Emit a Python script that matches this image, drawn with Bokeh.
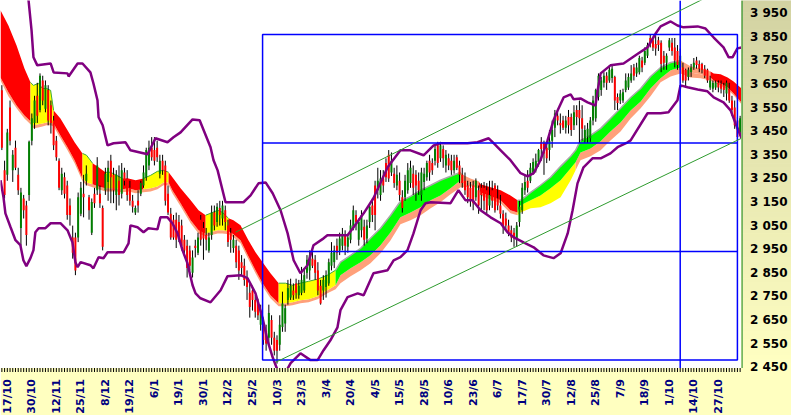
import math
from bokeh.plotting import figure
from bokeh.models import Range1d
from bokeh.core.properties import value
from bokeh.embed import file_html
from bokeh.resources import INLINE

# ---------------- data ----------------
opens = [
    3623, 3285, 3265, 3550, 3285, 3380, 3265, 3040, 3165, 3135,
    3180, 3410, 3485, 3600, 3540, 3665, 3545, 3625, 3560, 3495,
    3410, 3325, 3200, 3255, 3220, 3135, 3000, 3000, 3000, 3100,
    3185, 3240, 3170, 3020, 3185, 3200, 3185, 3125, 3200, 3235,
    3325, 3265, 3180, 3240, 3185, 3275, 3250, 3210, 3155, 3105,
    3155, 3185, 3220, 3255, 3305, 3380, 3370, 3380, 3270, 3325,
    3305, 3185, 3100, 3075, 3075, 3065, 3050, 2990, 2965, 2945,
    2850, 2965, 2935, 3075, 3040, 3010, 2945, 3010, 3105, 3065,
    3125, 3080, 3115, 3050, 3020, 2955, 2965, 2945, 2895, 2880,
    2830, 2765, 2775, 2735, 2725, 2630, 2635, 2605, 2575, 2650,
    2575, 2565, 2545, 2620, 2635, 2735, 2745, 2775, 2805, 2755,
    2765, 2775, 2850, 2860, 2910, 2905, 2860, 2795, 2775, 2790,
    2805, 2880, 2895, 2965, 2945, 2965, 3010, 2960, 2990, 3045,
    3095, 2990, 3030, 3045, 2995, 3065, 3135, 3220, 3200, 3180,
    3250, 3315, 3350, 3275, 3270, 3220, 3240, 3170, 3170, 3200,
    3230, 3270, 3265, 3240, 3180, 3235, 3255, 3325, 3315, 3325,
    3390, 3335, 3375, 3305, 3335, 3325, 3285, 3340, 3305, 3265,
    3240, 3220, 3210, 3220, 3170, 3200, 3210, 3210, 3200, 3135,
    3200, 3220, 3165, 3135, 3100, 3080, 3050, 3030, 3020, 2990,
    3065, 3115, 3200, 3240, 3240, 3275, 3285, 3320, 3405, 3400,
    3380, 3370, 3410, 3465, 3515, 3485, 3495, 3465, 3510, 3510,
    3475, 3540, 3540, 3505, 3410, 3425, 3420, 3495, 3505, 3595,
    3625, 3655, 3685, 3665, 3675, 3680, 3595, 3580, 3580, 3625,
    3635, 3665, 3720, 3695, 3700, 3750, 3740, 3770, 3845, 3835,
    3820, 3835, 3825, 3770, 3740, 3805, 3825, 3805, 3790, 3720,
    3720, 3710, 3680, 3700, 3720, 3750, 3735, 3735, 3715, 3710,
    3635, 3630, 3635, 3655, 3650, 3645, 3610, 3630, 3580, 3550,
    3495, 3445,
]
closes = [
    3380, 3180, 3445, 3410, 3350, 3295, 3200, 3190, 3115, 3010,
    3405, 3505, 3580, 3515, 3685, 3580, 3645, 3495, 3485, 3390,
    3340, 3210, 3270, 3185, 3095, 3095, 2935, 2860, 3170, 3210,
    3170, 3270, 3115, 3150, 3145, 3305, 3145, 2960, 3270, 3295,
    3255, 3200, 3265, 3180, 3285, 3240, 3180, 3155, 3130, 3125,
    3135, 3230, 3275, 3370, 3380, 3340, 3325, 3340, 3325, 3285,
    3155, 3105, 3000, 3000, 2990, 2995, 2965, 2945, 2870, 2880,
    2915, 2955, 3000, 2990, 2995, 2990, 3000, 3105, 3050, 3130,
    3095, 3135, 3065, 2980, 2990, 2990, 2895, 2860, 2870, 2820,
    2790, 2705, 2735, 2685, 2670, 2690, 2565, 2550, 2680, 2575,
    2520, 2520, 2630, 2720, 2700, 2785, 2795, 2755, 2765, 2795,
    2820, 2840, 2905, 2925, 2880, 2850, 2775, 2720, 2820, 2840,
    2895, 2935, 2945, 2935, 2995, 3015, 2965, 3000, 3050, 3115,
    3065, 3065, 3095, 2990, 3050, 3130, 3095, 3095, 3240, 3250,
    3220, 3255, 3250, 3325, 3230, 3265, 3180, 3125, 3240, 3285,
    3295, 3210, 3220, 3200, 3275, 3270, 3315, 3275, 3285, 3375,
    3315, 3390, 3335, 3350, 3305, 3285, 3325, 3295, 3265, 3230,
    3200, 3170, 3155, 3145, 3240, 3135, 3180, 3155, 3115, 3180,
    3155, 3115, 3135, 3100, 3045, 3050, 3020, 3000, 2995, 3050,
    3130, 3210, 3235, 3210, 3295, 3320, 3325, 3370, 3375, 3355,
    3335, 3410, 3455, 3525, 3495, 3475, 3465, 3495, 3475, 3455,
    3530, 3510, 3505, 3460, 3455, 3460, 3495, 3580, 3625, 3685,
    3665, 3685, 3655, 3710, 3715, 3580, 3570, 3610, 3615, 3665,
    3680, 3695, 3685, 3720, 3760, 3720, 3790, 3815, 3820, 3805,
    3800, 3815, 3735, 3740, 3770, 3835, 3790, 3750, 3730, 3770,
    3665, 3665, 3710, 3720, 3740, 3730, 3715, 3710, 3685, 3665,
    3665, 3655, 3655, 3635, 3630, 3625, 3655, 3580, 3540, 3475,
    3425, 3505,
]
highs = [
    3645, 3325, 3460, 3580, 3370, 3410, 3295, 3210, 3180, 3155,
    3410, 3525, 3600, 3655, 3695, 3685, 3665, 3645, 3580, 3515,
    3430, 3335, 3295, 3275, 3240, 3165, 3050, 3020, 3190, 3235,
    3265, 3305, 3180, 3165, 3210, 3340, 3220, 3135, 3295, 3325,
    3350, 3295, 3285, 3305, 3315, 3295, 3285, 3240, 3180, 3135,
    3200, 3240, 3305, 3380, 3410, 3425, 3425, 3410, 3350, 3350,
    3325, 3220, 3125, 3095, 3105, 3095, 3075, 3010, 2990, 2965,
    2945, 2990, 3020, 3095, 3065, 3040, 3020, 3135, 3135, 3145,
    3155, 3155, 3135, 3075, 3040, 3010, 2990, 2965, 2925, 2910,
    2860, 2805, 2795, 2755, 2740, 2715, 2660, 2630, 2715, 2670,
    2600, 2585, 2670, 2770, 2715, 2820, 2825, 2805, 2825, 2820,
    2875, 2870, 2925, 2945, 2945, 2925, 2895, 2820, 2840, 2860,
    2910, 2980, 2965, 2995, 3020, 3040, 3030, 3015, 3075, 3135,
    3115, 3080, 3115, 3075, 3075, 3145, 3165, 3240, 3295, 3285,
    3285, 3335, 3370, 3360, 3295, 3305, 3275, 3200, 3265, 3315,
    3325, 3305, 3285, 3275, 3295, 3295, 3325, 3350, 3335, 3390,
    3405, 3405, 3390, 3370, 3355, 3350, 3350, 3350, 3325, 3295,
    3275, 3240, 3235, 3240, 3250, 3220, 3230, 3235, 3230, 3240,
    3240, 3230, 3220, 3180, 3115, 3105, 3075, 3050, 3040, 3065,
    3155, 3230, 3265, 3285, 3315, 3335, 3355, 3375, 3425, 3410,
    3405, 3455, 3495, 3540, 3530, 3525, 3515, 3515, 3540, 3525,
    3560, 3560, 3580, 3560, 3475, 3485, 3510, 3600, 3630, 3695,
    3680, 3700, 3700, 3730, 3730, 3685, 3610, 3625, 3630, 3695,
    3695, 3730, 3735, 3740, 3770, 3765, 3805, 3825, 3860, 3850,
    3855, 3850, 3835, 3790, 3780, 3845, 3845, 3845, 3815, 3800,
    3740, 3715, 3720, 3735, 3760, 3765, 3750, 3740, 3730, 3715,
    3685, 3665, 3665, 3665, 3665, 3655, 3665, 3655, 3600, 3580,
    3510, 3515,
]
lows = [
    3370, 3165, 3240, 3390, 3235, 3285, 3180, 2965, 3080, 2965,
    3155, 3390, 3460, 3485, 3530, 3560, 3530, 3475, 3440, 3370,
    3325, 3200, 3180, 3165, 3075, 3050, 2910, 2840, 2980, 3090,
    3085, 3220, 3075, 3010, 3125, 3180, 3125, 2945, 3180, 3155,
    3145, 3145, 3115, 3135, 3165, 3220, 3155, 3135, 3105, 3095,
    3105, 3175, 3210, 3240, 3285, 3325, 3305, 3320, 3250, 3265,
    3135, 3095, 2990, 2990, 2955, 2980, 2945, 2925, 2830, 2860,
    2830, 2915, 2925, 2965, 2905, 2945, 2935, 2990, 3030, 3045,
    3050, 3050, 3030, 2960, 2935, 2935, 2870, 2820, 2840, 2795,
    2735, 2660, 2690, 2660, 2650, 2605, 2545, 2520, 2545, 2545,
    2500, 2465, 2520, 2600, 2600, 2715, 2735, 2735, 2740, 2740,
    2755, 2765, 2825, 2820, 2870, 2820, 2755, 2715, 2735, 2745,
    2795, 2860, 2870, 2905, 2925, 2945, 2925, 2935, 2975, 3030,
    3030, 2965, 3000, 2965, 2975, 3040, 3065, 3030, 3165, 3155,
    3190, 3235, 3235, 3260, 3210, 3200, 3155, 3105, 3155, 3185,
    3210, 3180, 3155, 3180, 3155, 3200, 3240, 3240, 3265, 3305,
    3295, 3320, 3295, 3275, 3285, 3265, 3270, 3285, 3230, 3210,
    3180, 3145, 3130, 3115, 3155, 3100, 3115, 3115, 3100, 3115,
    3125, 3105, 3115, 3080, 3015, 3030, 3005, 2980, 2960, 2960,
    3045, 3100, 3180, 3190, 3230, 3265, 3275, 3300, 3325, 3265,
    3315, 3325, 3380, 3425, 3475, 3440, 3455, 3440, 3440, 3430,
    3455, 3475, 3400, 3410, 3400, 3400, 3405, 3475, 3490, 3580,
    3600, 3635, 3625, 3655, 3655, 3540, 3540, 3565, 3570, 3615,
    3625, 3655, 3665, 3680, 3690, 3700, 3730, 3760, 3805, 3790,
    3770, 3790, 3700, 3710, 3710, 3790, 3770, 3720, 3710, 3710,
    3655, 3635, 3665, 3680, 3710, 3715, 3700, 3695, 3675, 3655,
    3625, 3615, 3625, 3615, 3610, 3595, 3580, 3570, 3515, 3460,
    3410, 3430,
]

# Bollinger bands (bar position, value)
upper_x = [0, 4, 8, 9.8, 10.9, 11.6, 13.0, 17.9, 19.0, 24.1, 24.5, 27.8, 29.6, 32.5, 33.6, 35.1, 35.5, 37.0,
           38.8, 41.0, 45.4, 47.2, 53.5, 56.4, 60.8, 63.0, 65.6, 70.0, 72.6, 76.6, 77.7, 79.2, 82.1, 85.0,
           88.7, 91.3, 94.2, 96.8, 99.4, 102.3, 104.9, 107.1, 109.6, 112.2, 114.4, 118.1, 119.5, 126.9,
           129.1, 132.8, 136.4, 141.6, 146.3, 150.0, 154.8, 158.5, 161.0, 170.9, 174.6, 178.7, 180.5,
           183.1, 186.7, 190.4, 193.0, 195.2, 197.7, 200.3, 202.5, 204.0, 206.2, 208.8, 209.9, 212.4,
           215.0, 217.9, 218.7, 219.8, 223.4, 228.2, 233.7, 237.0, 240.0, 241.8, 245.5, 248.0, 250.2,
           255.4, 258.3, 261.3, 264.9, 266.8, 268.2, 270.0, 271.5]
upper_y = [4260, 4180, 4080, 4004, 3877, 3763, 3729, 3737, 3699, 3695, 3682, 3737, 3737, 3699, 3653, 3581, 3509, 3475,
           3390, 3399, 3403, 3369, 3352, 3420, 3403, 3424, 3445, 3500, 3496, 3382, 3327, 3284, 3149, 3149,
           3149, 3178, 3229, 3233, 3187, 3115, 3017, 2903, 2848, 2882, 2967, 2996, 3009, 3009,
           3043, 3102, 3166, 3297, 3369, 3369, 3348, 3390, 3399, 3399, 3403, 3420, 3399,
           3369, 3327, 3272, 3259, 3272, 3327, 3411, 3496, 3538, 3593, 3606, 3585, 3589,
           3572, 3559, 3623, 3695, 3729, 3737, 3780, 3805, 3864, 3894, 3915, 3898, 3890,
           3894, 3885, 3847, 3805, 3763, 3763, 3801, 3805]
lower_x = [-0.5, 0.6, 1.3, 3.2, 5.0, 6.8, 7.9, 9.0, 10.5, 11.6, 12.3, 13.5, 16.0, 17.9, 21.5, 24.1, 25.9, 27.0,
           27.8, 28.9, 32.5, 33.6, 35.5, 37.3, 38.8, 44.7, 46.5, 47.2, 49.8, 52.0, 53.8, 57.1, 58.2, 60.8,
           62.6, 64.5, 66.3, 68.1, 70.0, 71.1, 72.9, 76.6, 80.3, 82.8, 87.6, 90.2, 93.1, 95.7, 97.5, 99.4,
           101.2, 103.0, 106.0, 109.6, 113.3, 115.9, 118.1, 120.6, 123.2, 124.3, 126.9, 130.6, 132.8,
           136.4, 141.6, 143.8, 146.3, 148.9, 151.1, 153.7, 155.5, 157.4, 164.7, 167.6, 170.2, 172.8,
           175.7, 179.4, 183.1, 185.6, 187.8, 191.5, 195.2, 198.8, 202.5, 205.1, 207.7, 209.5, 211.3,
           213.5, 216.8, 219.8, 223.4, 226.0, 229.7, 230.8, 237.0, 241.8, 244.7, 248.0, 249.1, 251.7,
           255.4, 259.0, 261.3, 264.9, 267.5, 269.3, 270.8, 271.5]
lower_y = [3242, 3170, 3102, 3043, 2988, 2967, 2903, 2878, 2912, 2946, 3022, 3039, 3039, 3060, 3060, 3030, 2979, 2895,
           2874, 2895, 2882, 2869, 2916, 2912, 2937, 2937, 2975, 3051, 3043, 3022, 3039, 3034, 3085, 3085,
           3060, 3017, 2946, 2891, 2797, 2763, 2742, 2725, 2776, 2835, 2840, 2827, 2763, 2658, 2564, 2492,
           2437, 2405, 2467, 2509, 2480, 2480, 2522, 2564, 2619, 2692, 2747, 2763, 2755,
           2848, 2861, 2903, 2916, 2946, 3017, 3115, 3145, 3149, 3145, 3200, 3157, 3157,
           3115, 3085, 3060, 3022, 3001, 2979, 2958, 2924, 2912, 2933, 3017, 3115, 3229,
           3297, 3335, 3335, 3356, 3382, 3403, 3411, 3526, 3526, 3530, 3581, 3644, 3636,
           3627, 3619, 3593, 3572, 3538, 3483, 3441, 3420]

# Moving-average ribbon: top line, middle line, bottom line, colours of the two fills
rib_x = [-0.5, 2.4, 5.4, 8.3, 10.5, 11.6, 13.4, 14.9, 16.4, 17.9, 19.0, 21.5, 24.1, 26.7, 29.6, 31.1, 33.3,
         35.5, 38.0, 39.9, 42.1, 44.3, 46.5, 49.1, 52.0, 54.6, 57.1, 59.3, 61.2, 62.6, 65.6, 69.3, 72.2,
         74.8, 76.6, 79.2, 81.0, 83.2, 85.0, 87.6, 90.5, 93.1, 95.7, 98.6, 101.6, 104.1, 106.7, 109.6,
         112.6, 115.9, 119.5, 122.5, 124.3, 128.0, 131.7, 135.3, 139.0, 142.7, 146.3, 150.0, 153.7,
         157.4, 161.0, 164.7, 168.4, 169.5, 172.0, 175.0, 175.7, 179.4, 183.1, 186.7, 189.3, 190.4,
         194.1, 197.7, 201.4, 205.1, 208.8, 210.6, 212.4, 216.1, 219.8, 223.4, 227.1, 230.8, 234.5,
         238.1, 241.8, 245.5, 249.1, 252.8, 256.5, 260.1, 261.3, 263.8, 266.4, 268.6, 271.5]
rib_top = [3962, 3898, 3813, 3716, 3657, 3644, 3653, 3631, 3631, 3623, 3538, 3504, 3454, 3403, 3356, 3348, 3314,
           3297, 3276, 3276, 3263, 3250, 3250, 3242, 3250, 3263, 3280, 3284, 3276, 3255, 3208, 3157, 3115,
           3094, 3102, 3115, 3106, 3081, 3073, 3051, 2988, 2937, 2895, 2848, 2806, 2806, 2797, 2806,
           2814, 2823, 2840, 2861, 2895, 2924, 2954, 2996, 3039, 3094, 3153, 3174, 3200,
           3221, 3242, 3259, 3276, 3263, 3250, 3238, 3225, 3212, 3200, 3178, 3157, 3157,
           3191, 3221, 3255, 3301, 3344, 3369, 3411, 3432, 3462, 3504, 3547, 3593, 3631,
           3682, 3720, 3741, 3750, 3725, 3716, 3703, 3695, 3691, 3678, 3661, 3631]
rib_mid = [3678, 3615, 3559, 3517, 3492, 3475, 3479, 3483, 3487, 3487, 3483, 3432, 3382, 3327, 3250, 3233, 3225,
           3216, 3208, 3208, 3208, 3204, 3208, 3200, 3204, 3208, 3216, 3233, 3233, 3200, 3145, 3073, 3030,
           3017, 3022, 3030, 3030, 3026, 3013, 2988, 2920, 2861, 2806, 2755, 2721, 2721, 2725, 2734,
           2738, 2751, 2776, 2797, 2840, 2869, 2895, 2924, 2967, 3022, 3085, 3106, 3128,
           3157, 3178, 3208, 3242, 3238, 3229, 3221, 3191, 3174, 3157, 3115, 3106, 3136,
           3157, 3178, 3208, 3242, 3293, 3318, 3360, 3377, 3407, 3449, 3487, 3538, 3576,
           3631, 3674, 3708, 3720, 3699, 3691, 3678, 3665, 3653, 3636, 3610, 3572]
rib_bot = [3665, 3598, 3547, 3504, 3479, 3462, 3466, 3470, 3475, 3475, 3470, 3420, 3369, 3314, 3238, 3221, 3212,
           3204, 3195, 3195, 3195, 3191, 3195, 3187, 3191, 3195, 3204, 3221, 3221, 3187, 3132, 3060, 3017,
           3005, 3009, 3017, 3017, 3013, 3001, 2975, 2907, 2848, 2793, 2742, 2708, 2708, 2713, 2721,
           2725, 2738, 2763, 2780, 2806, 2835, 2861, 2890, 2933, 2988, 3056, 3073, 3094,
           3123, 3149, 3183, 3212, 3212, 3217, 3208, 3178, 3161, 3145, 3102, 3094, 3106,
           3123, 3128, 3145, 3170, 3242, 3284, 3327, 3344, 3369, 3411, 3449, 3504, 3547,
           3598, 3657, 3682, 3695, 3678, 3674, 3665, 3657, 3644, 3627, 3602, 3564]
R, Y, G, S = "#FF0000", "#FFFF00", "#00FF00", "#FFA07A"
rib_up_col = ([R] * 4 + [Y] * 6 + [R] * 4 + [Y] * 2 + [R] * 2 + [Y] * 3 + [R] * 3 + [Y] * 4 + [R] * 5
              + [Y] * 4 + [R] * 7 + [Y] * 7 + [G] * 13 + [S] * 3 + [R] * 5 + [G] * 7 + [G] * 11
              + [S] * 3 + [R] * 5)
rib_lo_col = [S] * 72 + [Y] * 7 + [S] * 20

# trend channel (bar, value)
chan_up_x, chan_up_y = [85.8, 271.5], [3022, 4091]
chan_lo_x, chan_lo_y = [100.5, 271.5], [2471, 3420]

# range box with thirds, vertical marker
box_left, box_right, box_top, box_bottom = 95.7, 270.0, 3860, 2480
box_levels = [3400, 2940]
marker_x = 249.0

# axes
y_ticks = [3950, 3850, 3750, 3650, 3550, 3450, 3350, 3250, 3150, 3050, 2950, 2850, 2750, 2650, 2550, 2450]
y_labels = ["3 950", "3 850", "3 750", "3 650", "3 550", "3 450", "3 350", "3 250", "3 150", "3 050",
            "2 950", "2 850", "2 750", "2 650", "2 550", "2 450"]
x_labels = ["17/10", "30/10", "12/11", "25/11", "8/12", "19/12", "6/1", "19/1", "30/1", "12/2", "25/2",
            "10/3", "23/3", "3/4", "20/4", "4/5", "15/5", "28/5", "10/6", "23/6", "6/7", "17/7", "30/7",
            "12/8", "25/8", "7/9", "18/9", "1/10", "14/10", "27/10"]
x_label_pos = [2 + 9 * k for k in range(len(x_labels))]

# ---------------- geometry ----------------
N = len(opens)
W, H = 791, 415
PLOT_W, PLOT_H = 741, 367.5          # data area in pixels; right panel and bottom strip outside it
px_x = PLOT_W / N                    # pixels per bar
X0, X_PANEL = -0.5, N - 0.5
X_END = X0 + W / px_x
Y0, Y1 = 2446.6, 4003.8
per_px = (Y1 - Y0) / PLOT_H
Y_BOTTOM = Y0 - (H - PLOT_H) * per_px

p = figure(width=W, height=H, x_range=Range1d(X0, X_END), y_range=Range1d(Y_BOTTOM, Y1),
           output_backend="svg", toolbar_location=None, x_axis_location=None, y_axis_location=None,
           min_border_left=0, min_border_right=0, min_border_top=0, min_border_bottom=0)
p.grid.visible = False
p.outline_line_color = None
p.background_fill_color = "white"
p.border_fill_color = "#FFFFC0"


def runs(colors):
    out, start = [], 0
    for k in range(1, len(colors) + 1):
        if k == len(colors) or colors[k] != colors[start]:
            out.append((start, k, colors[start]))
            start = k
    return out


# ribbon: lower fills then upper fills
for a, b, c in runs(rib_lo_col):
    p.varea(x=rib_x[a:b + 1], y1=rib_mid[a:b + 1], y2=rib_bot[a:b + 1], fill_color=c)
for a, b, c in runs(rib_up_col):
    p.varea(x=rib_x[a:b + 1], y1=rib_mid[a:b + 1], y2=rib_top[a:b + 1], fill_color=c)
for a, b, c in runs(rib_up_col):
    if c == G:
        p.line(rib_x[a:b + 1], rib_top[a:b + 1], line_color="#A8A8A8", line_width=1.5)
    elif c == Y:
        p.line(rib_x[a:b + 1], rib_top[a:b + 1], line_color="#3CAA3C", line_width=1)

# candles
xs = list(range(N))
wick_lo = [min(l, o, c) for l, o, c in zip(lows, opens, closes)]
wick_hi = [max(h, o, c) for h, o, c in zip(highs, opens, closes)]
p.segment(x0=xs, x1=xs, y0=wick_lo, y1=wick_hi, line_color="black", line_width=1)
body_col = ["#008000" if c >= o else "#FF0000" for o, c in zip(opens, closes)]
p.vbar(x=xs, width=0.72, top=[max(o, c) for o, c in zip(opens, closes)],
       bottom=[min(o, c) for o, c in zip(opens, closes)], fill_color=body_col, line_color=None)

# bands
p.line(upper_x, upper_y, line_color="#800080", line_width=2.5)
p.line(lower_x, lower_y, line_color="#800080", line_width=2.5)

# box and marker
p.quad(left=[box_left], right=[box_right], top=[box_top], bottom=[box_bottom],
       fill_color=None, line_color="#0000FF", line_width=1.5)
p.segment(x0=[box_left] * 2, x1=[box_right] * 2, y0=box_levels, y1=box_levels,
          line_color="#0000FF", line_width=1.5)
p.segment(x0=[marker_x], x1=[marker_x], y0=[Y0], y1=[Y1], line_color="#0000FF", line_width=1.5)

# channel
p.line(chan_up_x, chan_up_y, line_color="#2E9B2E", line_width=1)
p.line(chan_lo_x, chan_lo_y, line_color="#2E9B2E", line_width=1)

# bottom strip (covers anything below the data area)
p.quad(left=[X0], right=[X_END], top=[Y0], bottom=[Y_BOTTOM], fill_color="#FFFFC0", line_color=None)

# right value panel with vertical gradient
n = 90
tops, bots, cols = [], [], []
c_top, c_bot = (210, 210, 162), (255, 255, 194)
for k in range(n):
    t = k / (n - 1)
    tops.append(Y1 - k * (Y1 - Y0) / n)
    bots.append(Y1 - (k + 1) * (Y1 - Y0) / n)
    r, g, b = (round(c_top[j] + (c_bot[j] - c_top[j]) * t) for j in range(3))
    cols.append("#%02x%02x%02x" % (r, g, b))
p.quad(left=X_PANEL, right=X_END, top=tops, bottom=bots, fill_color=cols, line_color=cols)
p.quad(left=[X_PANEL], right=[X_PANEL + 1.2 / px_x], top=[Y1], bottom=[Y0],
       fill_color="#3C9A3C", line_color=None)

# value labels
p.text(x=[X_END - 4 / px_x] * len(y_ticks), y=y_ticks, text=y_labels, text_align="right",
       text_baseline="middle", text_font=value("DejaVu Sans"), text_font_style="bold",
       text_font_size="12px", text_color="black")

# date axis: one tick per bar, vertical labels
p.segment(x0=xs, x1=xs, y0=[Y0] * N, y1=[Y0 - 4 * per_px] * N, line_color="black", line_width=1)
p.text(x=x_label_pos, y=[Y0 - 11 * per_px] * len(x_label_pos), text=x_labels, angle=math.pi / 2,
       text_align="right", text_baseline="middle", text_font=value("DejaVu Sans"),
       text_font_style="bold", text_font_size="11px", text_color="#000080")

open("out.html", "w").write(file_html(p, INLINE))
